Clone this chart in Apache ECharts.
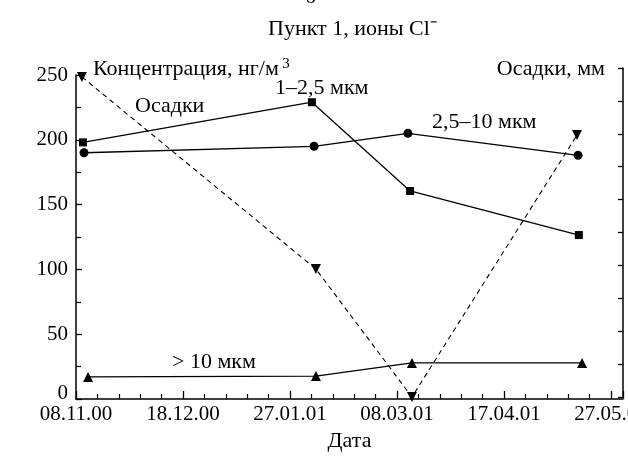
<!DOCTYPE html>
<html>
<head>
<meta charset="utf-8">
<script src="https://cdn.jsdelivr.net/npm/echarts@6/dist/echarts.min.js"></script>
<style>
  html, body { margin: 0; padding: 0; background: #fff; }
  #chart { width: 628px; height: 461px; }
</style>
</head>
<body>
<div id="chart"></div>
<script>
// по оси X — дни от 08.11.00
const tickLabels = ['08.11.00', '18.12.00', '27.01.01', '08.03.01', '17.04.01', '27.05.01']

const daysFine = [2.6, 88.2, 124.9, 188]
const valFine = [198, 229, 160.5, 126.5]   // 1–2,5 мкм

const daysMid = [3, 89, 124.1, 187.7]
const valMid = [190, 195, 205, 188]        // 2,5–10 мкм

const daysCoarse = [4.5, 89.7, 125.6, 189.2]
const valCoarse = [17, 17.7, 27.8, 27.8]   // > 10 мкм

const daysRain = [2.2, 89.7, 125.6, 187.3]
const valRain = [97.3, 38.9, 0, 79.6]      // осадки, правая ось

const font = 'Liberation Serif'

const pairs = (xs, ys) => xs.map((x, i) => [x, ys[i]])

const chart = echarts.init(document.getElementById('chart'))

const lineSeries = (name, xs, ys, symbol, size, extra) => Object.assign({
  name: name,
  type: 'line',
  data: pairs(xs, ys),
  symbol: symbol,
  symbolSize: size,
  itemStyle: { color: '#000' },
  lineStyle: { color: '#000', width: 1.3 },
  animation: false
}, extra)

const txt = (text, pos) => Object.assign({
  type: 'text',
  style: { text: text, font: '22px ' + font, fill: '#000' }
}, pos)

chart.setOption({
  backgroundColor: '#fff',
  grid: [
    { left: 76, right: 5, top: 75, bottom: 62, outerBoundsMode: 'none' },
    { left: 76, right: 5, top: 68, bottom: 64, outerBoundsMode: 'none' }
  ],
  xAxis: [
    {
      type: 'value', gridIndex: 0, min: 0, max: 204.5, interval: 40,
      axisLine: { lineStyle: { color: '#000', width: 1.5 } },
      axisTick: { inside: true, length: 8, lineStyle: { color: '#000', width: 1.3 } },
      minorTick: { show: true, splitNumber: 5, length: 5, lineStyle: { color: '#000', width: 1.2 } },
      splitLine: { show: false },
      axisLabel: {
        color: '#000', fontFamily: font, fontSize: 21, margin: 5,
        showMaxLabel: false,
        formatter: v => tickLabels[Math.round(v / 40)] || ''
      },
      name: 'Дата', nameLocation: 'middle', nameGap: 30,
      nameTextStyle: { color: '#000', fontFamily: font, fontSize: 22 }
    },
    { type: 'value', gridIndex: 1, min: 0, max: 204.5, show: false }
  ],
  yAxis: [
    {
      type: 'value', gridIndex: 0, min: 0, max: 250, interval: 50,
      axisLine: { show: true, lineStyle: { color: '#000', width: 1.5 } },
      axisTick: { show: true, inside: true, length: 6, lineStyle: { color: '#000', width: 1.3 } },
      minorTick: { show: true, splitNumber: 2, length: 5, lineStyle: { color: '#000', width: 1.2 } },
      splitLine: { show: false },
      axisLabel: {
        color: '#000', fontFamily: font, fontSize: 21, margin: 8,
        // ноль на оригинале чуть приподнят над осью
        formatter: v => v === 0 ? '{z|0}' : String(v),
        rich: { z: { fontFamily: font, fontSize: 21, color: '#000', padding: [0, 0, 12, 0] } }
      }
    },
    {
      type: 'value', gridIndex: 1, position: 'right', min: 0, max: 100, interval: 10,
      axisLine: { show: true, onZero: false, lineStyle: { color: '#000', width: 1.5 } },
      axisTick: { show: true, inside: true, length: 5, lineStyle: { color: '#000', width: 1.3 } },
      splitLine: { show: false },
      axisLabel: { show: false }
    }
  ],
  series: [
    lineSeries('1–2,5 мкм', daysFine, valFine, 'rect', 8),
    lineSeries('2,5–10 мкм', daysMid, valMid, 'circle', 9),
    lineSeries('> 10 мкм', daysCoarse, valCoarse, 'triangle', 10),
    lineSeries('Осадки', daysRain, valRain, 'triangle', 10, {
      xAxisIndex: 1, yAxisIndex: 1, symbolRotate: 180,
      lineStyle: { color: '#000', width: 1.1, type: [5, 4] }
    })
  ],
  graphic: [
    txt('б', { left: 305, top: -14 }),
    txt('Пункт 1, ионы Cl⁻', { left: 268, top: 18 }),
    {
      type: 'text', left: 93, top: 57,
      style: {
        text: '{a|Концентрация, нг/м} {s|3}',
        fill: '#000',
        rich: {
          a: { font: '22px ' + font, fill: '#000' },
          s: { font: '15px ' + font, fill: '#000', padding: [0, 0, 10, 0] }
        }
      }
    },
    txt('Осадки, мм', { right: 23, top: 58 }),
    txt('Осадки', { left: 135, top: 95 }),
    txt('1–2,5 мкм', { left: 275, top: 77 }),
    txt('2,5–10 мкм', { left: 432, top: 111 }),
    txt('> 10 мкм', { left: 172, top: 351 })
  ]
})
</script>
</body>
</html>
